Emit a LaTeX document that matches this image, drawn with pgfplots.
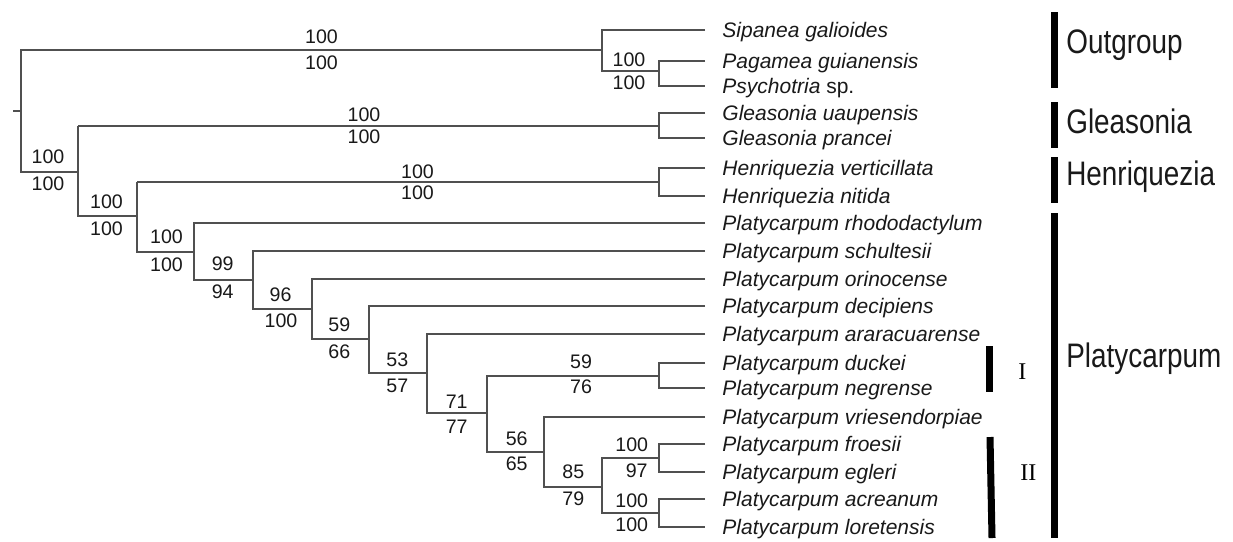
\documentclass[border=0pt]{standalone}
\usepackage{pgfplots}
\pgfplotsset{compat=1.18}
\usepackage{fontspec}
\setmainfont{Liberation Sans}
\newfontfamily\serifroman{Liberation Serif}
\definecolor{branch}{HTML}{505050}
\begin{document}
\begin{tikzpicture}
\begin{axis}[
  scale only axis, width=616.5pt, height=269pt,
  xmin=0, xmax=1233, ymin=0, ymax=538, y dir=reverse,
  hide axis, clip=false,
  tree/.style={branch, line width=0.85pt, mark=none, solid},
  bar/.style={black, line width=3.5pt, mark=none, solid},
]
\path (axis cs:0,0) rectangle (axis cs:1233,538);
% root stub and root
\addplot[tree] coordinates {(13,111) (21,111)};
\addplot[tree] coordinates {(602,30) (602,50) (21,50) (21,172) (78,172)};
% outgroup
\addplot[tree] coordinates {(705,30) (602,30) (602,71) (659,71)};
\addplot[tree] coordinates {(705,61) (659,61) (659,86) (705,86)};
% Gleasonia
\addplot[tree] coordinates {(78,126) (659,126)};
\addplot[tree] coordinates {(705,113) (659,113) (659,138) (705,138)};
\addplot[tree] coordinates {(78,126) (78,216) (137,216)};
% Henriquezia
\addplot[tree] coordinates {(137,182) (659,182)};
\addplot[tree] coordinates {(705,168) (659,168) (659,196) (705,196)};
\addplot[tree] coordinates {(137,182) (137,252) (194,252)};
% Platycarpum backbone
\addplot[tree] coordinates {(705,223) (194,223) (194,280) (253,280)};
\addplot[tree] coordinates {(705,251) (253,251) (253,309) (312,309)};
\addplot[tree] coordinates {(705,279) (312,279) (312,339) (369,339)};
\addplot[tree] coordinates {(705,306) (369,306) (369,373) (427,373)};
\addplot[tree] coordinates {(705,334) (427,334) (427,413) (487,413)};
\addplot[tree] coordinates {(659,376) (487,376) (487,452) (544,452)};
\addplot[tree] coordinates {(705,363) (659,363) (659,388) (705,388)};
\addplot[tree] coordinates {(705,417) (544,417) (544,487) (602,487)};
\addplot[tree] coordinates {(659,458) (602,458) (602,513) (659,513)};
\addplot[tree] coordinates {(705,444) (659,444) (659,472) (705,472)};
\addplot[tree] coordinates {(705,499) (659,499) (659,527) (705,527)};
% group bars
\addplot[bar] coordinates {(1054,12) (1054,88)};
\addplot[bar] coordinates {(1054,102) (1054,148)};
\addplot[bar] coordinates {(1054,157) (1054,203)};
\addplot[bar] coordinates {(1054,213) (1054,538)};
\addplot[bar] coordinates {(989.5,346) (989.5,392)};
\addplot[bar] coordinates {(990,437) (992,538)};

% taxa labels
\begin{scope}[every node/.style={anchor=base west, inner sep=0pt, font=\fontsize{10.5pt}{12pt}\selectfont\itshape, text=black!90}]
\node at (722,37) {Sipanea galioides};
\node at (722,68) {Pagamea guianensis};
\node at (722,93) {Psychotria \upshape sp.};
\node at (722,120) {Gleasonia uaupensis};
\node at (722,145) {Gleasonia prancei};
\node at (722,175) {Henriquezia verticillata};
\node at (722,203) {Henriquezia nitida};
\node at (722,230) {Platycarpum rhododactylum};
\node at (722,258) {Platycarpum schultesii};
\node at (722,286) {Platycarpum orinocense};
\node at (722,313) {Platycarpum decipiens};
\node at (722,341) {Platycarpum araracuarense};
\node at (722,370) {Platycarpum duckei};
\node at (722,395) {Platycarpum negrense};
\node at (722,424) {Platycarpum vriesendorpiae};
\node at (722,451) {Platycarpum froesii};
\node at (722,479) {Platycarpum egleri};
\node at (722,506) {Platycarpum acreanum};
\node at (722,534) {Platycarpum loretensis};
\end{scope}

% support values
\begin{scope}[every node/.style={anchor=center, inner sep=0pt, font=\fontsize{9.8pt}{11pt}\selectfont, text=black!90}]
\node at (321.5,37) {100}; \node at (321.5,63) {100};
\node at (629,60) {100}; \node at (629,83) {100};
\node at (364,115) {100}; \node at (364,137) {100};
\node at (48,157) {100}; \node at (48,184) {100};
\node at (417.5,172) {100}; \node at (417.5,193) {100};
\node at (106.5,202) {100}; \node at (106.5,229) {100};
\node at (166.5,237) {100}; \node at (166.5,265) {100};
\node at (222.7,264) {99}; \node at (222.7,292) {94};
\node at (280.5,295) {96}; \node at (281,321) {100};
\node at (339.3,325) {59}; \node at (339.3,352) {66};
\node at (397.3,360) {53}; \node at (397.3,386) {57};
\node at (456.7,402) {71}; \node at (456.7,427) {77};
\node at (581,362) {59}; \node at (581,387) {76};
\node at (516.7,439) {56}; \node at (516.7,464) {65};
\node at (573.3,472) {85}; \node at (573.3,499) {79};
\node at (631.7,445) {100}; \node at (636.7,471) {97};
\node at (631.7,501) {100}; \node at (631.7,525) {100};
\end{scope}

% group labels
\begin{scope}[every node/.style={anchor=west, inner sep=0pt, xscale=0.82, font=\fontsize{17pt}{19pt}\selectfont, text=black!90}]
\node at (1066,45) {Outgroup};
\node at (1066,121) {Gleasonia};
\node at (1066,177) {Henriquezia};
\node at (1066,359) {Platycarpum};
\end{scope}
\node[inner sep=0pt, font=\serifroman\fontsize{12pt}{14pt}\selectfont] at (1022.3,372) {I};
\node[inner sep=0pt, font=\serifroman\fontsize{12pt}{14pt}\selectfont] at (1028.3,473) {II};
\end{axis}
\end{tikzpicture}
\end{document}
